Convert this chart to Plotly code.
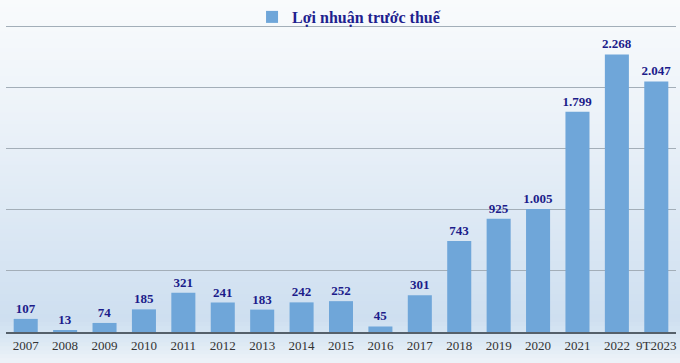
import plotly.graph_objects as go

categories = ["2007", "2008", "2009", "2010", "2011", "2012", "2013", "2014", "2015",
              "2016", "2017", "2018", "2019", "2020", "2021", "2022", "9T2023"]
profit = [107, 13, 74, 185, 321, 241, 183, 242, 252, 45, 301, 743, 925, 1005, 1799, 2268, 2047]
series_name = "Lợi nhuận trước thuế"


def vn_fmt(v):
    return f"{v:,}".replace(",", ".")


labels = [vn_fmt(v) for v in profit]

fig = go.Figure()
fig.add_trace(go.Bar(
    x=categories, y=profit, name=series_name,
    marker=dict(color="#6fa6d9", line=dict(width=0)),
    text=labels, textposition="outside", cliponaxis=False, constraintext="none",
    textfont=dict(family="Liberation Serif", size=13, color="#1c1c8a", weight="bold"),
    showlegend=True,
))

H = 363
t_m, b_m = 0, 31
ph = H - t_m - b_m

# background gradient via thin stacked rects (page fraction from top -> colour)
stops = [(0.0, (249, 251, 252)), (0.3, (237, 243, 249)), (0.88, (206, 223, 240)),
         (0.93, (216, 230, 243)), (1.0, (238, 243, 248))]


def col_at(t):
    for i in range(len(stops) - 1):
        a, ca = stops[i]
        b, cb = stops[i + 1]
        if a <= t <= b:
            f = (t - a) / (b - a) if b > a else 0
            return tuple(int(round(ca[k] + (cb[k] - ca[k]) * f)) for k in range(3))
    return stops[-1][1]


shapes = []
N = 90
for i in range(N):
    t0 = i / N
    t1 = (i + 1) / N
    c = col_at((t0 + t1) / 2)
    y_top = (H - b_m - t0 * H) / ph
    y_bot = (H - b_m - t1 * H) / ph
    shapes.append(dict(type="rect", xref="paper", yref="paper", layer="below",
                       x0=-0.02, x1=1.02, y0=y_bot - 0.002, y1=y_top + 0.002,
                       line=dict(width=0), fillcolor=f"rgb{c}"))

# y range such that 2500 sits at ~26 px from the top
y_top_val = 2500 * ph / (ph - 26)

fig.update_layout(
    width=680, height=363,
    margin=dict(l=6, r=4, t=t_m, b=b_m),
    paper_bgcolor="#eef3f8",
    plot_bgcolor="rgba(0,0,0,0)",
    bargap=0.39,
    shapes=shapes,
    showlegend=True,
    legend=dict(orientation="h", x=0.512, xanchor="center", y=1.0, yanchor="top",
                font=dict(family="Liberation Serif", size=16, color="#1f1f8f", weight="bold"),
                bgcolor="rgba(0,0,0,0)", itemwidth=30),
    xaxis=dict(showgrid=False, showline=True, linecolor="#55606a", linewidth=2,
               tickfont=dict(family="Liberation Serif", size=13, color="#333333"),
               ticks="", fixedrange=True),
    yaxis=dict(range=[0, y_top_val], tickvals=[500, 1000, 1500, 2000, 2500],
               showticklabels=False, showgrid=True,
               gridcolor="#a3aeb8", gridwidth=1, zeroline=False, showline=False,
               fixedrange=True),
    font=dict(family="Liberation Serif"),
)

fig.write_html("out.html", config={"displayModeBar": False},
               post_script="document.body.style.margin='0';")
